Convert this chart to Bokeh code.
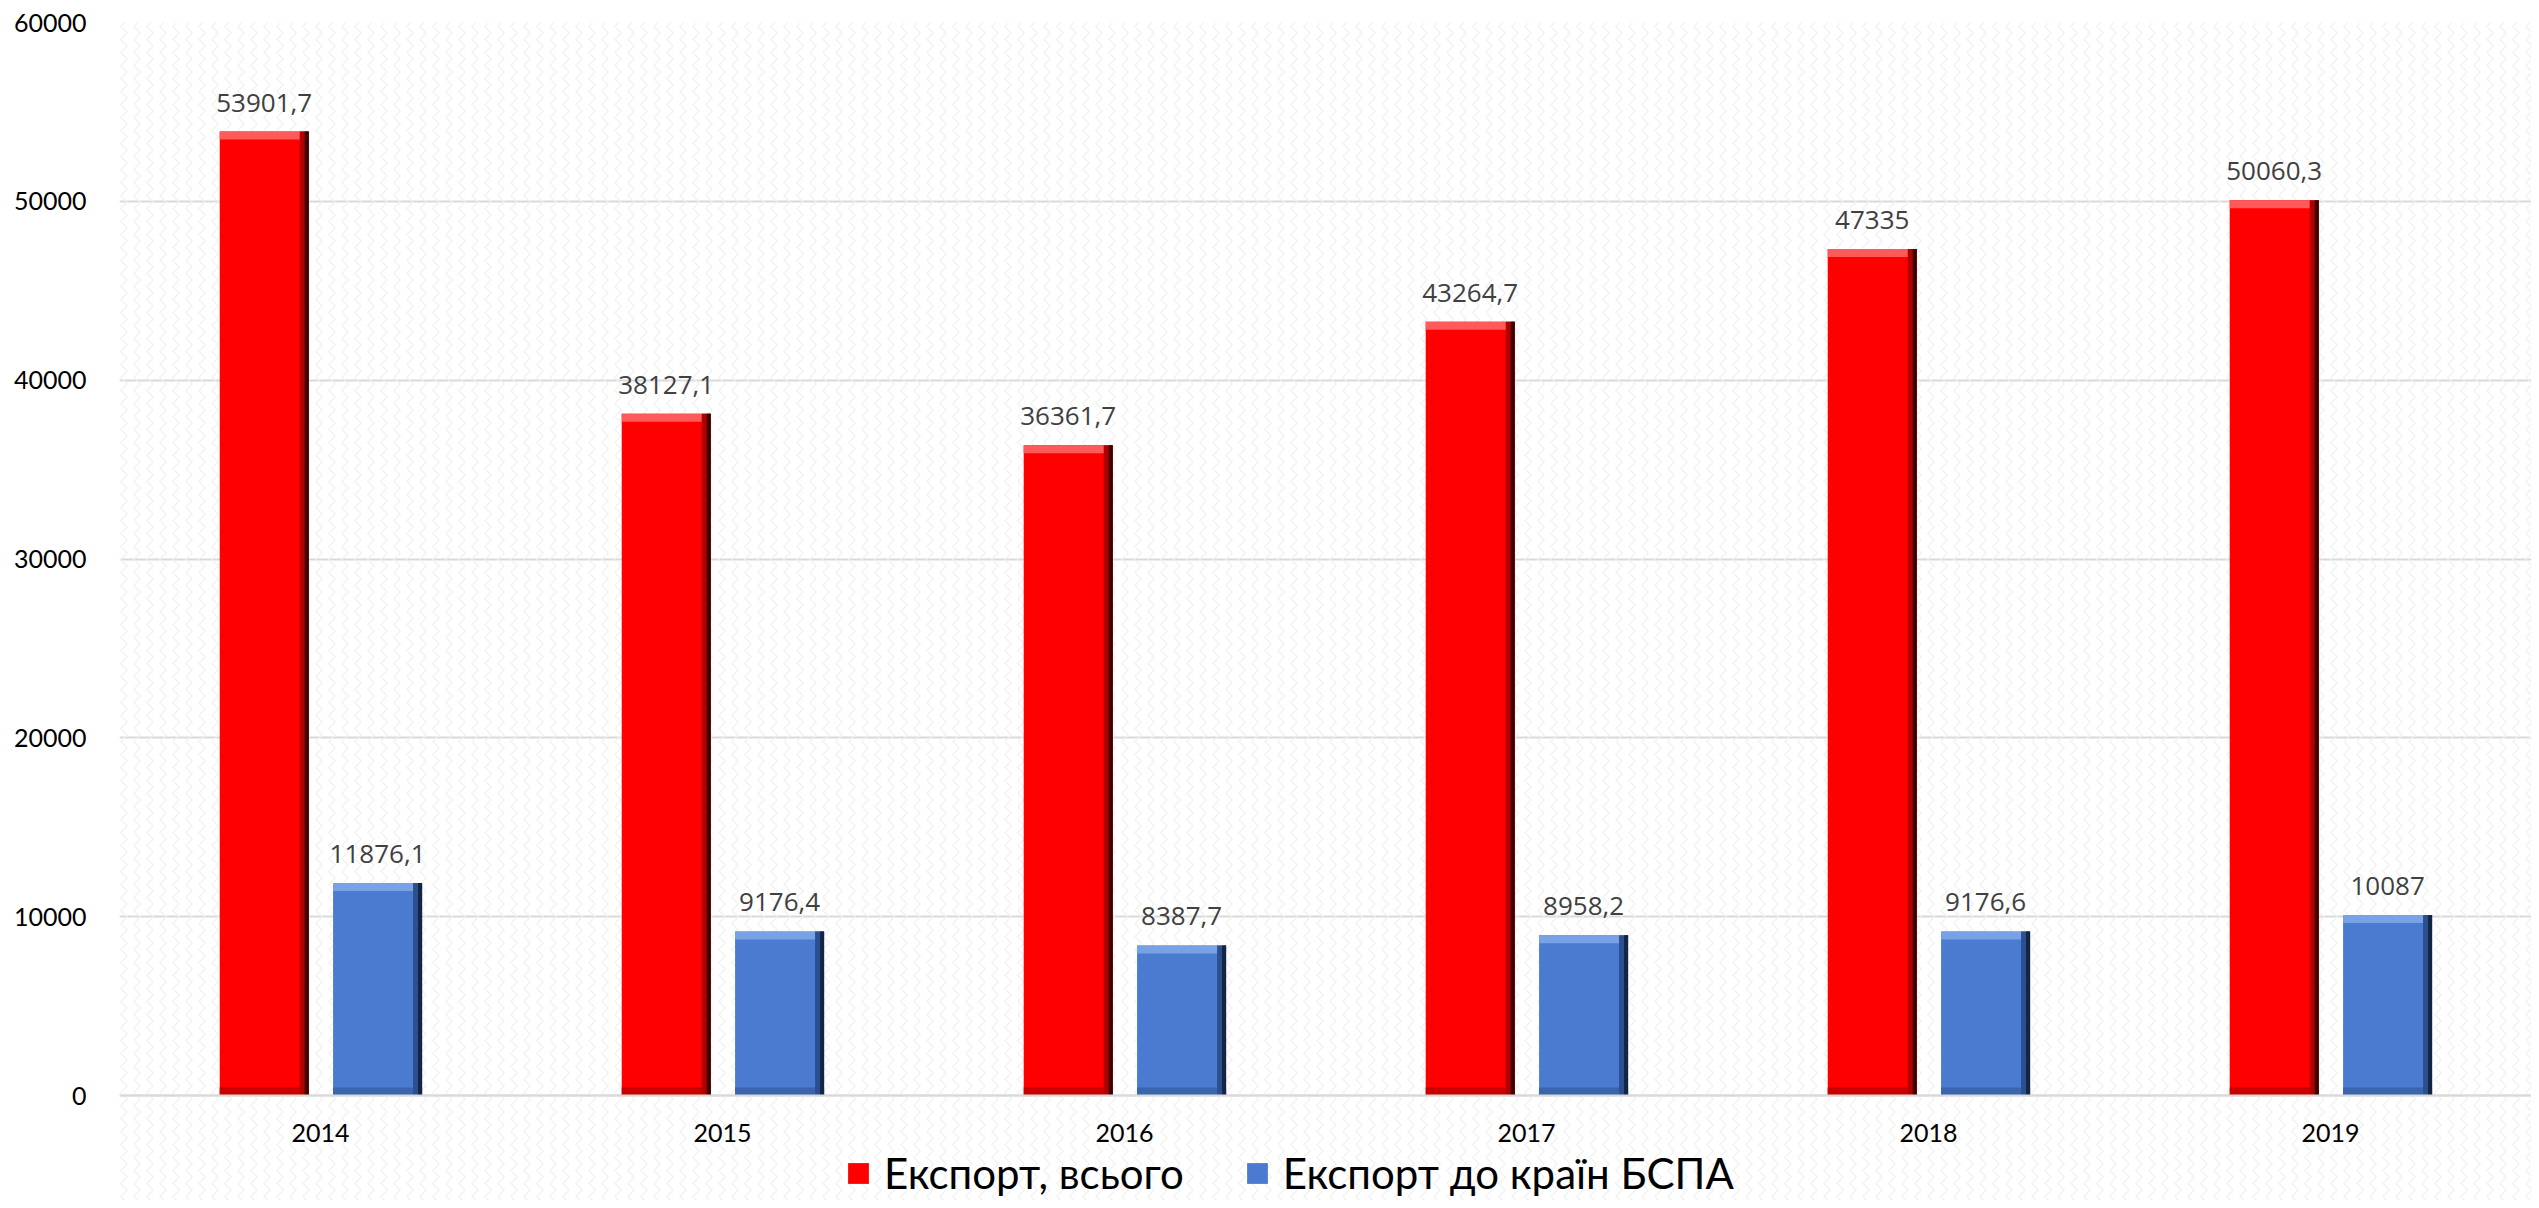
from bokeh.plotting import figure
from bokeh.models import (ColumnDataSource, FactorRange, Range1d, FixedTicker, Legend,
                          LegendItem, BoxAnnotation)
from bokeh.transform import dodge
from bokeh.core.properties import value
from bokeh.embed import file_html
from bokeh.resources import INLINE

# ---- data ----
years = ["2014", "2015", "2016", "2017", "2018", "2019"]
export_total = [53901.7, 38127.1, 36361.7, 43264.7, 47335, 50060.3]
export_efta = [11876.1, 9176.4, 8387.7, 8958.2, 9176.6, 10087]
y_ticks = [0, 10000, 20000, 30000, 40000, 50000, 60000]
series_names = ["Експорт, всього", "Експорт до країн БСПА"]

# ---- layout ----
W, H = 2531, 1200
LEFT, TOP = 119, 22
ZERO_Y = 1095            # figure px of the zero line
YMAX = 60000
px_y = YMAX / (ZERO_Y - TOP)          # data units per px
YMIN = -(H - ZERO_Y) * px_y            # frame extends below zero for axis + legend
px_x = 1.0 / ((W - LEFT) / len(years))  # category units per px

def fmt(v):
    return f"{v:g}".replace(".", ",")

p = figure(x_range=FactorRange(factors=years, range_padding=0),
           y_range=Range1d(YMIN, YMAX), width=W, height=H,
           output_backend="svg", toolbar_location=None,
           min_border_left=LEFT, min_border_right=0,
           min_border_top=TOP, min_border_bottom=0)
p.outline_line_color = None
p.background_fill_color = "white"
p.border_fill_color = "white"

# faint textured background
p.add_layout(BoxAnnotation(fill_alpha=0, line_color=None, hatch_pattern="vertical_wave",
                           hatch_color="#f1f1f1", hatch_scale=13, hatch_weight=1.2,
                           level="underlay"))

bw = 89 * px_x
series = [
    (export_total, -0.14, "#ff0000", "#ff5a5a", "#b00000", "#3a0000", "#c80000"),
    (export_efta, 0.142, "#4a7bd0", "#79a2e6", "#2c4f8f", "#132540", "#3a64ad"),
]
main_renderers = []
for vals, off, col, light, dark, darker, bottomc in series:
    src = ColumnDataSource(dict(
        year=years, top=vals,
        band=[v - 8 * px_y for v in vals],
        base=[8 * px_y for _ in vals],
        lbl=[fmt(v) for v in vals],
    ))
    r = p.vbar(x=dodge("year", off, range=p.x_range), top="top", bottom=0,
               width=bw, source=src, fill_color=col, line_color=None)
    main_renderers.append(r)
    # bevel: top light band
    p.vbar(x=dodge("year", off, range=p.x_range), top="top", bottom="band",
           width=bw, source=src, fill_color=light, line_color=None)
    # bottom darker band
    p.vbar(x=dodge("year", off, range=p.x_range), top="base", bottom=0,
           width=bw, source=src, fill_color=bottomc, line_color=None)
    # right dark edge
    sw1, sw2 = 9 * px_x, 4 * px_x
    p.vbar(x=dodge("year", off + bw / 2 - sw1 / 2, range=p.x_range), top="top", bottom=0,
           width=sw1, source=src, fill_color=dark, line_color=None)
    p.vbar(x=dodge("year", off + bw / 2 - sw2 / 2, range=p.x_range), top="top", bottom=0,
           width=sw2, source=src, fill_color=darker, line_color=None)
    # labels
    p.text(x=dodge("year", off, range=p.x_range), y="top", text="lbl", source=src,
           text_font=value("Open Sans"), text_font_size="26px", text_color="#404040",
           text_align="center", text_baseline="alphabetic", y_offset=-29)

# axes
p.yaxis.ticker = FixedTicker(ticks=y_ticks)
p.yaxis.axis_line_color = None
p.yaxis.major_tick_line_color = None
p.yaxis.minor_tick_line_color = None
p.yaxis.major_label_standoff = 27
p.yaxis.major_label_text_font = "Lato"
p.yaxis.major_label_text_font_size = "25px"
p.yaxis.major_label_text_color = "#000000"

p.xaxis.fixed_location = 0
p.xaxis.axis_line_color = "#d9d9d9"
p.xaxis.axis_line_width = 2
p.xaxis.major_tick_line_color = None
p.xaxis.minor_tick_line_color = None
p.xaxis.major_label_standoff = 22
p.xaxis.major_label_text_font = "Lato"
p.xaxis.major_label_text_font_size = "25px"
p.xaxis.major_label_text_color = "#000000"

p.xgrid.grid_line_color = None
p.ygrid.grid_line_color = "#d9d9d9"
p.ygrid.grid_line_width = 2

legend = Legend(items=[LegendItem(label=series_names[0], renderers=[main_renderers[0]]),
                       LegendItem(label=series_names[1], renderers=[main_renderers[1]])],
                orientation="horizontal", location=(726, 2),
                label_text_font="Lato", label_text_font_size="42px",
                label_text_color="#000000", label_height=29,
                glyph_width=26, glyph_height=26, label_standoff=13, spacing=60,
                border_line_color=None, background_fill_alpha=0,
                padding=2, margin=0)
p.add_layout(legend)

open("out.html", "w").write(file_html(p, INLINE))
